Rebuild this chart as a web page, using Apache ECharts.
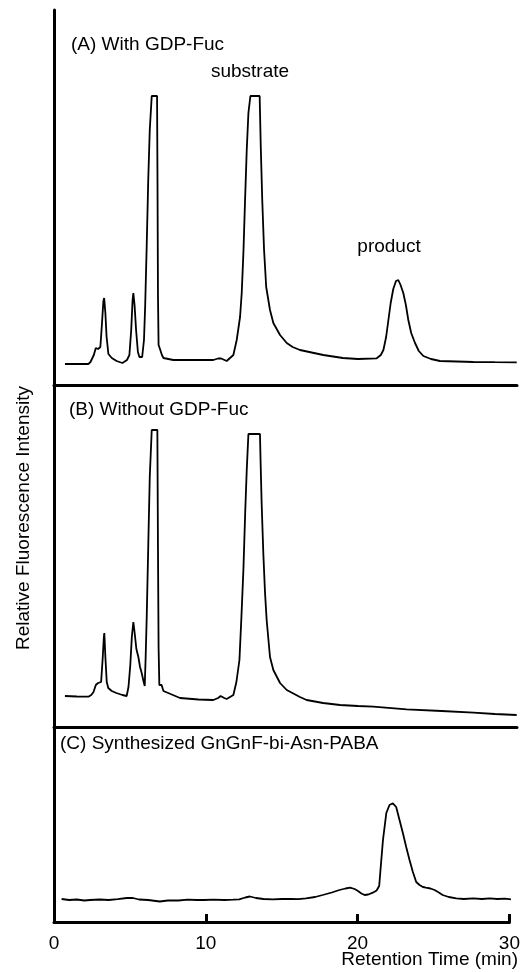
<!DOCTYPE html>
<html>
<head>
<meta charset="utf-8">
<script src="https://cdn.jsdelivr.net/npm/echarts@6/dist/echarts.min.js"></script>
<style>html,body{margin:0;padding:0;background:#fff;}#c{width:523px;height:972px;}</style>
</head>
<body>
<div id="c"></div>
<script>
// Retention time (min) vs relative fluorescence (arbitrary units, flat tops = off-scale peaks)
const traceA = [[0.72,21],[1.5,21],[2.26,21],[2.4,23],[2.5,25],[2.62,30],[2.75,37],[2.9,36],[3.05,38],[3.15,60],[3.25,84],[3.3,87],[3.38,72],[3.46,48],[3.58,31],[3.8,27],[4.12,24],[4.5,22],[4.8,25],[4.96,30],[5.08,55],[5.17,85],[5.22,92],[5.3,80],[5.4,55],[5.52,33],[5.62,28],[5.8,28],[5.92,45],[6.0,80],[6.1,140],[6.2,205],[6.3,255],[6.43,289],[6.78,289],[6.81,200],[6.84,90],[6.88,40],[6.95,37],[7.02,38],[7.1,30],[7.2,27],[7.85,25],[9,25],[10.48,25],[10.8,26.5],[11.0,26.5],[11.36,24],[11.8,30],[12.02,45],[12.24,68],[12.35,92],[12.46,132],[12.57,185],[12.68,235],[12.79,272],[12.92,289],[13.53,289],[13.6,240],[13.7,185],[13.82,135],[13.96,98],[14.21,75],[14.43,62],[14.87,50],[15.31,42],[15.7,38],[16.18,35],[17.72,30],[19,27],[20,26],[21.23,26.7],[21.5,30],[21.67,35],[21.85,48],[22.0,65],[22.15,82],[22.32,96],[22.5,104],[22.65,105],[22.8,100],[22.98,92],[23.15,80],[23.31,65],[23.5,52],[23.75,42],[24.0,34],[24.3,29],[24.8,26],[25.39,24],[26.5,23.5],[27.59,23],[29,22.8],[30.44,22.7]];

const traceB = [[0.72,31],[1.5,30.5],[2.26,30.3],[2.45,32],[2.6,35],[2.75,42],[2.9,44],[3.1,45],[3.2,68],[3.28,90],[3.31,94],[3.38,70],[3.47,45],[3.57,39],[3.8,36],[4.1,34],[4.5,32],[4.78,31],[4.9,40],[5.02,62],[5.12,90],[5.22,105],[5.3,95],[5.42,78],[5.55,70],[5.66,60],[5.77,54],[5.9,45],[5.97,41],[6.03,70],[6.1,110],[6.2,180],[6.3,250],[6.43,297],[6.8,297],[6.84,180],[6.88,80],[6.93,42],[7.0,40],[7.08,42],[7.2,36],[7.3,34],[8.29,29],[9.5,27.5],[10.48,27],[10.8,29],[10.96,31],[11.2,29],[11.36,28],[11.8,32],[12.0,45],[12.2,67],[12.33,110],[12.46,157],[12.58,215],[12.68,257],[12.79,293],[13.55,293],[13.6,260],[13.66,224],[13.77,174],[13.88,135],[13.99,107],[14.21,70],[14.43,57],[14.87,44],[15.31,37],[16.18,30],[16.62,27],[17.7,24],[18.82,22],[20,21],[21,20.3],[23.2,17.7],[25.5,16],[27.6,14.3],[29,13],[30.44,12]];

const traceC = [[0.5,23],[1.0,22],[1.5,22.5],[2.0,21.5],[2.37,22],[3,22.5],[3.6,22],[4.2,22.8],[4.8,24],[5.2,24],[5.6,22.5],[6.2,22],[6.97,20.5],[7.5,21.5],[8.2,21.5],[8.8,22.3],[9.4,22],[9.9,22],[10.5,22.3],[11.2,22],[11.8,22.3],[12.2,22.7],[12.6,24.5],[12.9,25.5],[13.3,24],[13.8,23],[14.4,22.7],[15,23],[15.6,23.2],[16.1,22.8],[16.6,23.7],[17.2,25],[17.7,27],[18.3,29.5],[18.8,32],[19.2,33.5],[19.5,34.3],[19.8,33],[20.0,31.3],[20.25,28.5],[20.46,27],[20.7,27.5],[21.0,29.3],[21.25,31.5],[21.42,36],[21.56,62],[21.67,82],[21.89,109],[22.1,117],[22.32,118.7],[22.54,115],[22.76,102],[22.98,89],[23.2,75],[23.42,62],[23.64,50],[23.86,40],[24.08,37],[24.3,35],[24.5,34.3],[24.8,33.5],[25.07,32],[25.35,29.5],[25.6,27],[26.0,25],[26.5,23.7],[27,23],[27.6,23.7],[28.2,23],[28.7,23.7],[29.2,23],[29.7,23.3],[30.1,22.7]];

const xTicks = [0, 10, 20, 30];
const panelLabels = ['(A) With GDP-Fuc', '(B) Without GDP-Fuc', '(C) Synthesized GnGnF-bi-Asn-PABA'];
const peakLabels = ['substrate', 'product'];
const xTitle = 'Retention Time (min)';
const yTitle = 'Relative Fluorescence Intensity';

const FONT = 'Liberation Sans, Arial, Helvetica, sans-serif';
const FS = 19;
const chart = echarts.init(document.getElementById('c'));
const axisLine = {show: true, lineStyle: {color: '#000', width: 3}};
const lineSeries = (data, i) => ({
  type: 'line', data, xAxisIndex: i, yAxisIndex: i, showSymbol: false, clip: false,
  lineStyle: {color: '#000', width: 1.8}, silent: true, animation: false
});
const txt = (text, x, y, align) => ({
  type: 'text', x, y, silent: true,
  style: {text, fill: '#000', font: FS + 'px ' + FONT, textAlign: align || 'left', textVerticalAlign: 'middle'}
});
chart.setOption({
  animation: false,
  grid: [
    {left: 54, top: 10, right: 6, height: 375},
    {left: 54, top: 385, right: 6, height: 342},
    {left: 54, top: 727, right: 13, height: 195}
  ],
  xAxis: [
    {gridIndex: 0, type: 'value', min: 0, max: 30.46, axisLine, axisTick: {show: false}, axisLabel: {show: false}, splitLine: {show: false}},
    {gridIndex: 1, type: 'value', min: 0, max: 30.46, axisLine, axisTick: {show: false}, axisLabel: {show: false}, splitLine: {show: false}},
    {gridIndex: 2, type: 'value', min: xTicks[0], max: xTicks[xTicks.length - 1], interval: 10, axisLine,
     axisTick: {show: true, inside: true, length: 8, lineStyle: {color: '#000', width: 3}},
     axisLabel: {show: true, margin: 12, color: '#000', fontSize: FS, fontFamily: FONT},
     splitLine: {show: false}}
  ],
  yAxis: [
    {gridIndex: 0, type: 'value', min: 0, max: 375, axisLine, axisTick: {show: false}, axisLabel: {show: false}, splitLine: {show: false}},
    {gridIndex: 1, type: 'value', min: 0, max: 342, axisLine, axisTick: {show: false}, axisLabel: {show: false}, splitLine: {show: false}},
    {gridIndex: 2, type: 'value', min: 0, max: 195, axisLine, axisTick: {show: false}, axisLabel: {show: false}, splitLine: {show: false}}
  ],
  series: [lineSeries(traceA, 0), lineSeries(traceB, 1), lineSeries(traceC, 2)],
  graphic: [
    txt(panelLabels[0], 71, 45),
    txt(peakLabels[0], 250, 72, 'center'),
    txt(peakLabels[1], 389, 247, 'center'),
    txt(panelLabels[1], 69, 410),
    txt(panelLabels[2], 60, 744),
    txt(xTitle, 518, 960, 'right'),
    {type: 'text', x: 24, y: 518, rotation: Math.PI / 2, silent: true,
     style: {text: yTitle, fill: '#000', font: FS + 'px ' + FONT, textAlign: 'center', textVerticalAlign: 'middle'}}
  ]
});
</script>
</body>
</html>
